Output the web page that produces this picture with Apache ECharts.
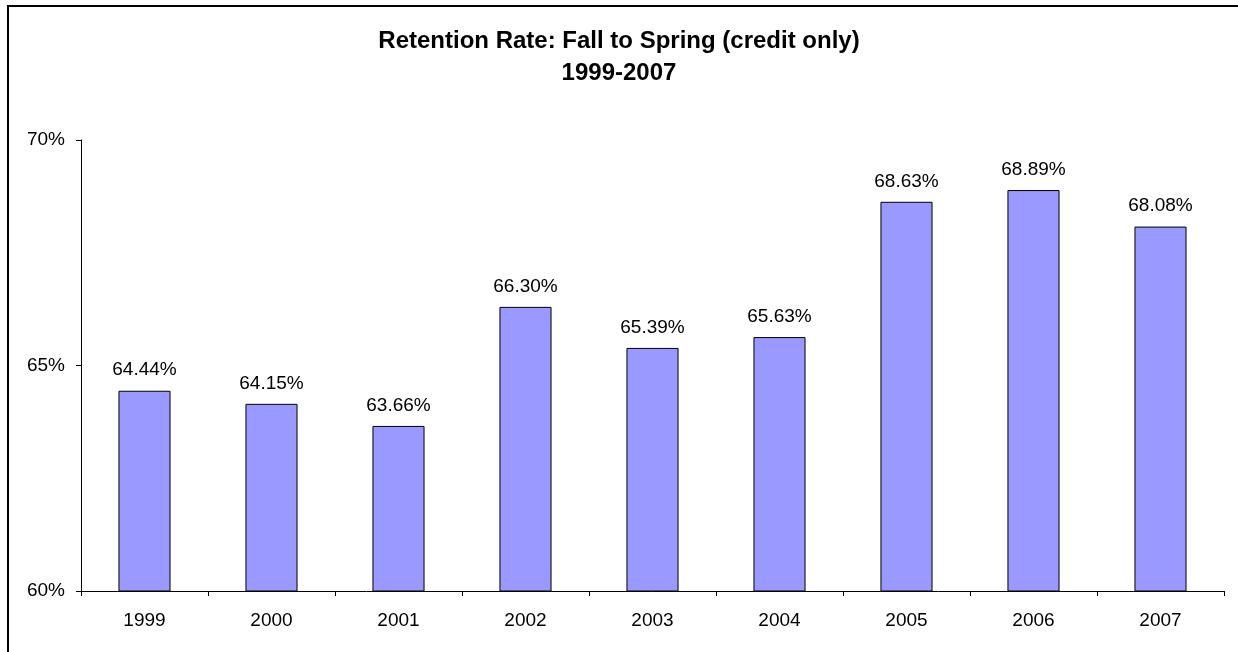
<!DOCTYPE html>
<html>
<head>
<meta charset="utf-8">
<script src="https://cdn.jsdelivr.net/npm/echarts@6/dist/echarts.min.js"></script>
<style>
  html, body { margin: 0; padding: 0; background: #fff; }
  #frame {
    position: absolute; left: 7px; top: 5px; width: 1229px; height: 660px;
    border-top: 2px solid #000; border-left: 2px solid #000; border-right: 1px solid #333;
  }
  #chart { position: absolute; left: 0; top: 0; width: 1238px; height: 652px; }
</style>
</head>
<body>
<div id="frame"></div>
<div id="chart"></div>
<script>
// retention rate, percent
var years = ['1999', '2000', '2001', '2002', '2003', '2004', '2005', '2006', '2007'];
var rates = [64.44, 64.15, 63.66, 66.30, 65.39, 65.63, 68.63, 68.89, 68.08];
var yTicks = [60, 65, 70];

var chart = echarts.init(document.getElementById('chart'));
var font = 'Arial, "Liberation Sans", sans-serif';

var option = {
  animation: false,
  title: {
    text: 'Retention Rate: Fall to Spring (credit only)\n1999-2007',
    left: 'center',
    top: 20,
    textStyle: { fontFamily: font, fontSize: 24, fontWeight: 'bold', color: '#000', lineHeight: 32 }
  },
  grid: { left: 81, right: 14, top: 140, bottom: 61 },
  xAxis: {
    type: 'category',
    data: years,
    axisLine: { lineStyle: { color: '#000', width: 1 } },
    axisTick: { show: true, length: 5, lineStyle: { color: '#000' } },
    axisLabel: { color: '#000', fontFamily: font, fontSize: 19, margin: 20 }
  },
  yAxis: {
    type: 'value',
    min: yTicks[0],
    max: yTicks[yTicks.length - 1],
    interval: 5,
    axisLine: { show: true, lineStyle: { color: '#000', width: 1 } },
    axisTick: { show: true, length: 5, lineStyle: { color: '#000' } },
    splitLine: { show: false },
    axisLabel: { color: '#000', fontFamily: font, fontSize: 19, margin: 16, formatter: '{value}%' }
  },
  series: [{
    type: 'bar',
    data: rates,
    barWidth: '41%',
    itemStyle: { color: '#9999ff', borderColor: '#000', borderWidth: 1 },
    label: {
      show: true, position: 'top', distance: 11,
      color: '#000', fontFamily: font, fontSize: 19,
      formatter: function (p) { return p.value.toFixed(2) + '%'; }
    }
  }]
};
chart.setOption(option);
</script>
</body>
</html>
